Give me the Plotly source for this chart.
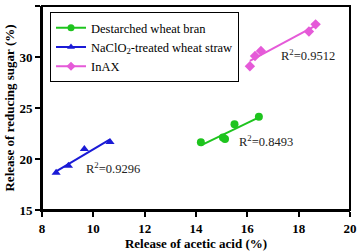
import numpy as np
import plotly.graph_objects as go

# Data
bran_x = [14.19, 15.05, 15.13, 15.5, 16.45]
bran_y = [21.64, 22.1, 21.95, 23.4, 24.15]
straw_x = [8.55, 9.03, 9.65, 10.65]
straw_y = [18.66, 19.35, 20.98, 21.67]
inax_x = [16.1, 16.3, 16.53, 18.4, 18.66]
inax_y = [29.1, 30.1, 30.6, 32.5, 33.2]

names = ["Destarched wheat bran", "NaClO<sub>2</sub>-treated wheat straw", "InAX"]
r2_labels = ["R<sup>2</sup>=0.8493", "R<sup>2</sup>=0.9296", "R<sup>2</sup>=0.9512"]
colors = ["#1ec41e", "#1a1ad6", "#e55ad8"]
symbols = ["circle", "triangle-up", "diamond"]

x_ticks = [8, 10, 12, 14, 16, 18, 20]
y_ticks = [15, 20, 25, 30, 35]

SERIF = "Times New Roman, Liberation Serif, serif"

fig = go.Figure()
series = [(bran_x, bran_y), (straw_x, straw_y), (inax_x, inax_y)]
for (xs, ys), name, c, s in zip(series, names, colors, symbols):
    xs = np.array(xs); ys = np.array(ys)
    k, b = np.polyfit(xs, ys, 1)
    xl = np.array([xs.min(), xs.max()])
    fig.add_trace(go.Scatter(x=xl, y=k * xl + b, mode="lines",
                             line=dict(color=c, width=2), showlegend=False))
    fig.add_trace(go.Scatter(x=xs, y=ys, mode="markers",
                             marker=dict(color=c, symbol=s, size=8), showlegend=False))
    fig.add_trace(go.Scatter(x=[None], y=[None], mode="lines+markers", name=name,
                             line=dict(color=c, width=2),
                             marker=dict(color=c, symbol=s, size=7)))

# R² annotations placed near each fit
ann_pos = [(16.73, 21.76), (10.77, 19.1), (18.36, 30.2)]
for (ax, ay), t in zip(ann_pos, r2_labels):
    fig.add_annotation(x=ax, y=ay, text=t, showarrow=False, xanchor="center",
                       font=dict(family=SERIF, size=12.5, color="#222"))

axis_common = dict(showline=True, linecolor="black", linewidth=2, mirror=False,
                   ticks="outside", ticklen=5, tickwidth=2, tickcolor="black",
                   showgrid=False, zeroline=False,
                   tickfont=dict(family=SERIF, size=13, color="black"))

fig.update_layout(
    width=358, height=251,
    margin=dict(l=42, r=8, t=6, b=41),
    paper_bgcolor="white", plot_bgcolor="white",
    font=dict(family=SERIF, color="black"),
    xaxis=dict(range=[8, 20], tickvals=x_ticks, ticktext=[f"<b>{v}</b>" for v in x_ticks],
               title=dict(text="<b>Release of acetic acid (%)</b>", standoff=4,
                          font=dict(family=SERIF, size=13)),
               automargin=False, **axis_common),
    yaxis=dict(range=[15, 35], tickvals=y_ticks, ticktext=[f"<b>{v}</b>" for v in y_ticks],
               title=dict(text="<b>Release of reducing sugar (%)</b>", standoff=2,
                          font=dict(family=SERIF, size=13)),
               automargin=False, **axis_common),
    legend=dict(x=0.026, y=0.97, xanchor="left", yanchor="top",
                bordercolor="black", borderwidth=1, bgcolor="white",
                font=dict(family=SERIF, size=12.5, color="black"),
                tracegroupgap=0, itemwidth=30),
    shapes=[dict(type="rect", xref="paper", yref="paper", x0=0, y0=0, x1=1, y1=1,
                 line=dict(color="black", width=2))],
)

fig.write_html("out.html", config={"displayModeBar": False},
               post_script="document.body.style.margin='0';")
